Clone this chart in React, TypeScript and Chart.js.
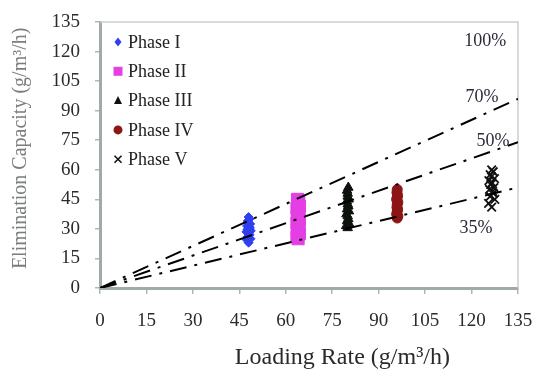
import React, { useEffect, useRef } from 'react';
import { Chart, registerables } from 'chart.js';
Chart.register(...registerables);

const axisTicks = [0, 15, 30, 45, 60, 75, 90, 105, 120, 135];

const xTitle = 'Loading Rate (g/m³/h)';
const yTitle = 'Elimination Capacity (g/m³/h)';

const phaseLabels = ['Phase I', 'Phase II', 'Phase III', 'Phase IV', 'Phase V'];

const phase1X = [48, 47.4, 48.6, 47.7, 48.3, 48, 47.3, 48.7, 47.8, 48.2, 47.5, 48.5, 48, 47.7, 48.3, 48, 47.6, 48.4];
const phase1Y = [23, 24.5, 25, 26, 27, 27.5, 28.5, 29, 30, 31, 31.5, 32.5, 33, 34, 35, 36, 29.5, 30.5];

const phase2X = [64, 63.6, 64.4, 64, 63.7, 64.3, 64, 63.6, 64.4, 64, 63.7, 64.3, 64, 63.6, 64.4, 64, 64.2, 63.8];
const phase2Y = [25, 26, 27.5, 28.5, 29.5, 31, 32, 33, 34.5, 35.5, 36.5, 38, 39, 40.5, 41.5, 43, 44, 45];

const phase3X = [80, 79.5, 80.5, 79.8, 80.2, 80, 79.6, 80.4, 79.8, 80.2, 80, 79.7, 80.3, 80, 80, 79.8, 80.2];
const phase3Y = [30.5, 31.5, 32.5, 34, 35, 36.5, 37.5, 39, 40, 41.5, 42.5, 44, 45, 46.5, 48, 49.5, 51];

const phase4X = [96, 96.2, 95.8, 96, 96.1, 95.9, 96, 96.2, 95.8, 96, 96.1, 95.9, 96];
const phase4Y = [35.5, 36.5, 37.5, 39, 40, 41, 42.5, 43.5, 45, 46, 47, 48.5, 50];

const phase5X = [126.5, 125.5, 127.5, 126, 127, 126.8, 125.8, 127.2, 126.2, 126.6, 125.6, 127.4, 126.4, 126, 127, 126.5];
const phase5Y = [41, 43, 45, 46.5, 48, 49, 50, 51, 52.5, 53.5, 54.5, 55.5, 56.5, 57.5, 59, 60];

// reference lines through origin, value reached at x = 135
const lineEndX = 135;
const lineEndY = [96, 74, 51];

const annoText = ['100%', '70%', '50%', '35%'];
const annoX = [124.4, 123.4, 126.9, 121.4];
const annoY = [125.4, 96.9, 74.6, 30.5];

const zip = (xs: number[], ys: number[]) => xs.map((x, i) => ({ x, y: ys[i] }));

const SERIF = '"Liberation Serif", "Times New Roman", serif';

function drawMarker(ctx: CanvasRenderingContext2D, style: string, x: number, y: number, color: string) {
  ctx.save();
  ctx.fillStyle = color;
  ctx.strokeStyle = color;
  ctx.beginPath();
  if (style === 'rectRot') {
    ctx.moveTo(x, y - 4.5);
    ctx.lineTo(x + 3.5, y);
    ctx.lineTo(x, y + 4.5);
    ctx.lineTo(x - 3.5, y);
    ctx.closePath();
    ctx.fill();
  } else if (style === 'rect') {
    ctx.rect(x - 4.5, y - 4.5, 9, 9);
    ctx.fill();
  } else if (style === 'triangle') {
    ctx.moveTo(x, y - 4.5);
    ctx.lineTo(x + 4, y + 3.5);
    ctx.lineTo(x - 4, y + 3.5);
    ctx.closePath();
    ctx.fill();
  } else if (style === 'circle') {
    ctx.arc(x, y, 4.5, 0, Math.PI * 2);
    ctx.fill();
  } else {
    ctx.lineWidth = 1.6;
    ctx.moveTo(x - 3.5, y - 3.5);
    ctx.lineTo(x + 3.5, y + 3.5);
    ctx.moveTo(x + 3.5, y - 3.5);
    ctx.lineTo(x - 3.5, y + 3.5);
    ctx.stroke();
  }
  ctx.restore();
}

export default function App() {
  const ref = useRef<HTMLCanvasElement>(null);
  useEffect(() => {
    const frame = {
      id: 'frame',
      beforeDatasetsDraw(chart: any) {
        const { ctx, chartArea: a } = chart;
        ctx.save();
        ctx.strokeStyle = '#c9cfce';
        ctx.lineWidth = 1.5;
        ctx.beginPath();
        ctx.moveTo(a.left, a.top);
        ctx.lineTo(a.right, a.top);
        ctx.lineTo(a.right, a.bottom);
        ctx.stroke();
        ctx.restore();
      },
    };
    const annos = {
      id: 'annos',
      afterDatasetsDraw(chart: any) {
        const { ctx, scales, chartArea: a } = chart;
        ctx.save();
        ctx.font = '18px ' + SERIF;
        ctx.fillStyle = '#2a2a3a';
        ctx.textAlign = 'center';
        ctx.textBaseline = 'middle';
        annoText.forEach((t, i) => {
          ctx.fillText(t, scales.x.getPixelForValue(annoX[i]), scales.y.getPixelForValue(annoY[i]));
        });
        // legend
        ctx.textAlign = 'left';
        chart.data.datasets.forEach((ds: any, i: number) => {
          if (!ds.label) return;
          const y = a.top + 20 + i * 29.3;
          drawMarker(ctx, ds.pointStyle, a.left + 18, y, ds.backgroundColor);
          ctx.fillStyle = '#222';
          ctx.fillText(ds.label, a.left + 28, y + 1);
        });
        // axis titles
        ctx.textAlign = 'center';
        ctx.font = '24px ' + SERIF;
        ctx.fillStyle = '#2a2a2a';
        ctx.fillText(xTitle, a.left + (a.right - a.left) * 0.58, 358);
        ctx.save();
        ctx.translate(21, a.top + (a.bottom - a.top) * 0.475);
        ctx.rotate(-Math.PI / 2);
        ctx.font = '20px ' + SERIF;
        ctx.fillStyle = '#7a7d7d';
        ctx.fillText(yTitle, 0, 0);
        ctx.restore();
        ctx.restore();
      },
    };
    const lineDs = lineEndY.map((ey) => ({
      label: '',
      data: [{ x: 0, y: 0 }, { x: lineEndX, y: ey }],
      showLine: true,
      pointRadius: 0,
      borderColor: '#000',
      borderWidth: 2,
      borderDash: [17, 8, 3, 8],
      order: 0,
    }));
    const chart = new Chart(ref.current!, {
      type: 'scatter',
      data: {
        datasets: [
          {
            label: phaseLabels[0], data: zip(phase1X, phase1Y), pointStyle: 'rectRot', pointRadius: 4.5,
            backgroundColor: '#2f3ff0', borderColor: '#2f3ff0', borderWidth: 1, order: 1,
          },
          {
            label: phaseLabels[1], data: zip(phase2X, phase2Y), pointStyle: 'rect', pointRadius: 8.5,
            backgroundColor: '#e43fe4', borderColor: '#e43fe4', borderWidth: 1, order: 1,
          },
          {
            label: phaseLabels[2], data: zip(phase3X, phase3Y), pointStyle: 'triangle', pointRadius: 5.5,
            backgroundColor: '#0d120d', borderColor: '#0d120d', borderWidth: 1, order: 1,
          },
          {
            label: phaseLabels[3], data: zip(phase4X, phase4Y), pointStyle: 'circle', pointRadius: 5,
            backgroundColor: '#8c1515', borderColor: '#8c1515', borderWidth: 1, order: 1,
          },
          {
            label: phaseLabels[4], data: zip(phase5X, phase5Y), pointStyle: 'crossRot', pointRadius: 6,
            backgroundColor: '#111', borderColor: '#111', borderWidth: 1.8, order: 1,
          },
          ...lineDs,
        ] as any,
      },
      options: {
        responsive: false,
        animation: false,
        devicePixelRatio: 1,
        layout: { padding: { left: 9, right: 18, top: 22, bottom: 0 } },
        plugins: {
          tooltip: { enabled: false },
          legend: { display: false },
        },
        scales: {
          x: {
            type: 'linear',
            min: 0,
            max: 135,
            afterBuildTicks: (s: any) => { s.ticks = axisTicks.map((v) => ({ value: v })); },
            afterFit: (s: any) => { s.height = 86; s.paddingRight = 0; s.paddingLeft = 0; },
            ticks: { autoSkip: false, maxRotation: 0, padding: 16, color: '#2b2b2b', font: { family: SERIF, size: 19 } },
            grid: { drawOnChartArea: false, drawTicks: true, tickLength: 6, color: '#b0b8b6', lineWidth: 1.5 },
            border: { display: true, color: '#a0aaa8', width: 3 },
          },
          y: {
            type: 'linear',
            min: 0,
            max: 135,
            afterBuildTicks: (s: any) => { s.ticks = axisTicks.map((v) => ({ value: v })); },
            afterFit: (s: any) => { s.width = 91; s.paddingTop = 0; s.paddingBottom = 0; },
            ticks: { autoSkip: false, padding: 15, color: '#2b2b2b', font: { family: SERIF, size: 19 } },
            grid: { drawOnChartArea: false, drawTicks: true, tickLength: 5, color: '#b0b8b6', lineWidth: 1.5 },
            border: { display: true, color: '#a0aaa8', width: 3 },
          },
        },
      },
      plugins: [frame, annos],
    });
    return () => chart.destroy();
  }, []);
  return (
    <div style={{ position: 'fixed', left: 0, top: 0, width: 536, height: 374, background: '#fff' }}>
      <canvas ref={ref} width={536} height={374} style={{ display: 'block' }} />
    </div>
  );
}
